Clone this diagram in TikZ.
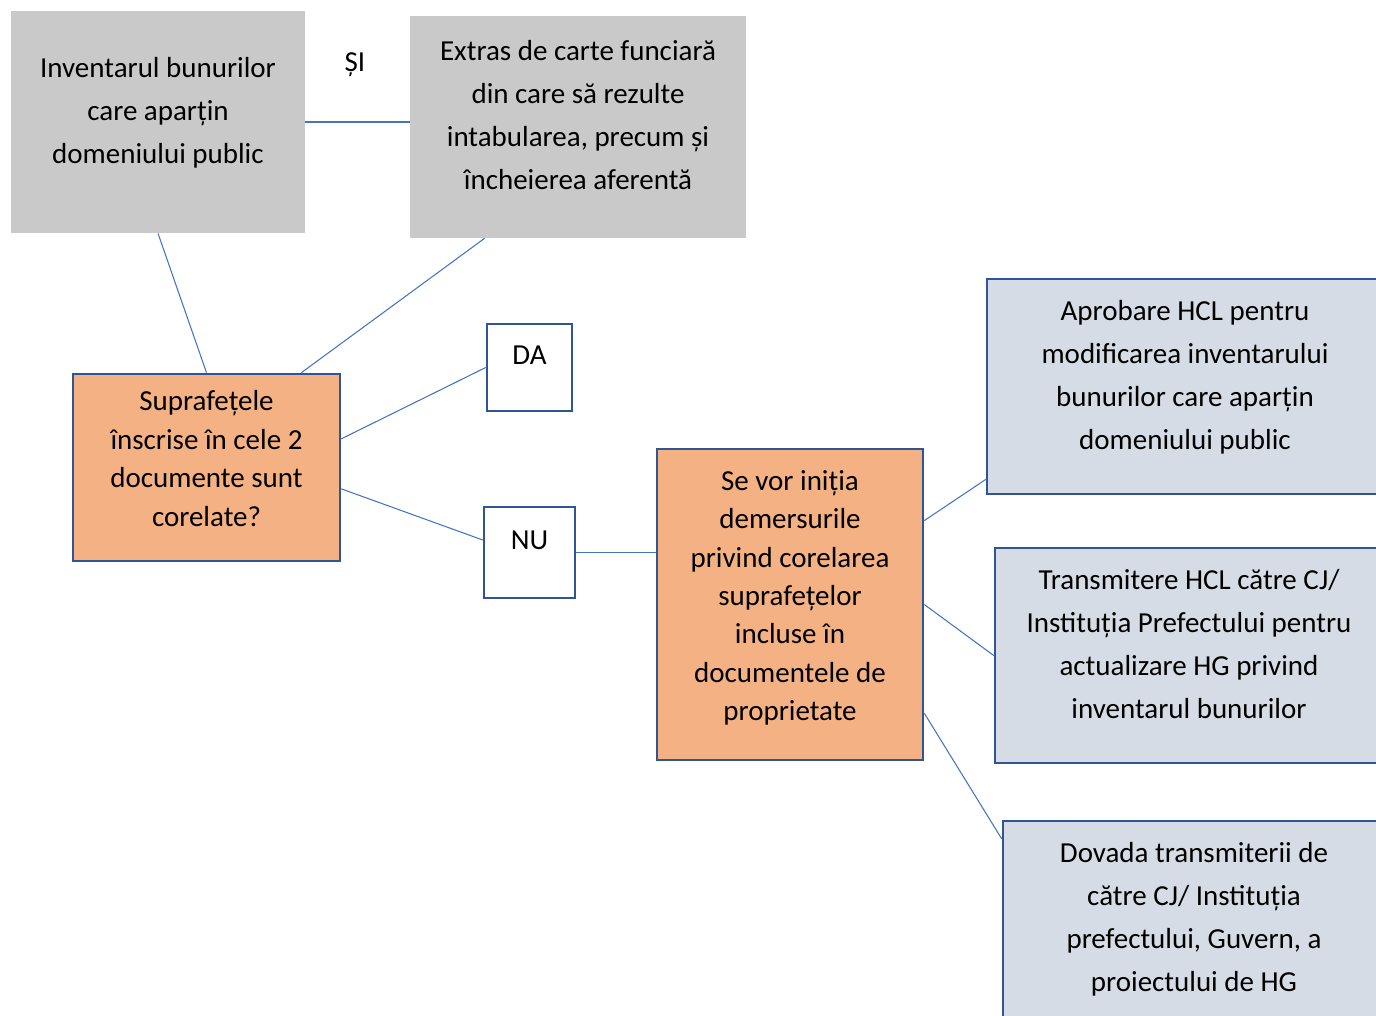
\documentclass[tikz,border=0pt]{standalone}
\usepackage{fontspec}
\setmainfont{Carlito}
\definecolor{gri}{HTML}{C9C9C9}
\definecolor{portocaliu}{HTML}{F4B183}
\definecolor{bleu}{HTML}{D6DCE5}
\definecolor{chenar}{HTML}{2F5597}
\definecolor{linie}{HTML}{4472C4}
\newcommand{\josstrut}{\rule[-0.48cm]{0pt}{0pt}}
\newcommand{\josstrutmic}{\rule[-0.36cm]{0pt}{0pt}}
\tikzset{
    doc/.style={fill=gri, align=center, minimum height=4.44cm,
        font=\fontsize{16.5}{24.5}\selectfont, execute at end node=\josstrut},
    decizie/.style={fill=portocaliu, draw=chenar, line width=1.5pt, align=center,
        font=\fontsize{16.5}{21.9}\selectfont, execute at end node=\josstrutmic},
    raspuns/.style={fill=white, draw=chenar, line width=1.5pt,
        font=\fontsize{16.5}{20}\selectfont, execute at end node=\josstrut},
    pas/.style={fill=bleu, draw=chenar, line width=1.5pt, align=center, minimum height=4.3cm,
        font=\fontsize{16.5}{24.5}\selectfont, execute at end node=\josstrut},
    leg/.style={draw=linie, line width=0.6pt},
}
\begin{document}
\begin{tikzpicture}[x=0.02cm, y=-0.02cm]
    \useasboundingbox (0,0) rectangle (1376,1015);
    \clip (0,0) rectangle (1376,1015);
    % documentele
    \node[doc, minimum width=5.88cm] (inv) at (158,122)
        {Inventarul bunurilor\\care aparțin\\domeniului public};
    \node[doc, minimum width=6.72cm] (extras) at (578,127)
        {Extras de carte funciară\\din care să rezulte\\intabularea, precum și\\încheierea aferentă};
    \node[font=\fontsize{16.5}{20}\selectfont] (si) at (355,65) {ȘI};
    % intrebarea
    \node[decizie, minimum width=5.34cm, minimum height=3.74cm] (corel) at (206.5,467.5)
        {Suprafețele\\înscrise în cele 2\\documente sunt\\corelate?};
    \node[raspuns, minimum width=1.7cm, minimum height=1.74cm] (da) at (529.5,367.5) {DA};
    \node[raspuns, minimum width=1.82cm, minimum height=1.82cm] (nu) at (529.5,552.5) {NU};
    \node[decizie, minimum width=5.32cm, minimum height=6.22cm] (initia) at (790,604.5)
        {Se vor iniția\\demersurile\\privind corelarea\\suprafețelor\\incluse în\\documentele de\\proprietate};
    % pasii
    \node[pas, minimum width=7.92cm] (aprobare) at (1185,386.5)
        {Aprobare HCL pentru\\modificarea inventarului\\bunurilor care aparțin\\domeniului public};
    \node[pas, minimum width=7.76cm] (transmitere) at (1189,655.5)
        {Transmitere HCL către CJ/\\Instituția Prefectului pentru\\actualizare HG privind\\inventarul bunurilor};
    \node[pas, minimum width=7.64cm] (dovada) at (1194,928.5)
        {Dovada transmiterii de\\către CJ/ Instituția\\prefectului, Guvern, a\\proiectului de HG};

    \draw[leg] (inv.east) -- (inv.east -| extras.west);
    \draw[leg] (inv.south) -- (corel.north);
    \draw[leg] (extras.230) -- (corel.45);
    \draw[leg] (corel.12) -- (da.west);
    \draw[leg] (corel.-9) -- (nu.165);
    \draw[leg] (nu.east) -- (nu.east -| initia.west);
    \draw[leg] (initia.32) -- (aprobare.205);
    \draw[leg] (initia.east) -- (transmitere.west);
    \draw[leg] (initia.-39) -- (dovada.155);
\end{tikzpicture}
\end{document}
